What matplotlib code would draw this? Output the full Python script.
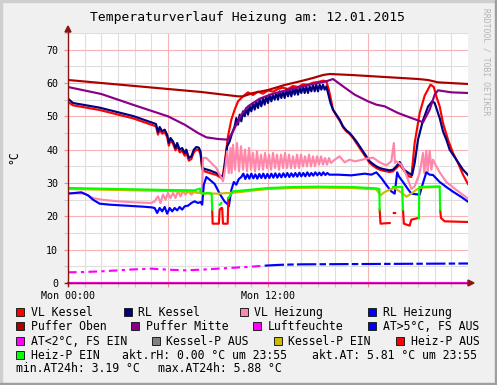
import numpy as np
import matplotlib
matplotlib.use("Agg")
import matplotlib.pyplot as plt
from matplotlib.patches import Rectangle, Polygon
from matplotlib.lines import Line2D

nan = np.nan
W, H = 497, 385

# ------------------------------------------------------------------ data
# time in hours since Mon 00:00, values in °C
title = "Temperaturverlauf Heizung am: 12.01.2015"
xtick_hours = [0, 6, 12, 18]
xtick_labels = ["Mon 00:00", "", "Mon 12:00", ""]
ytick_values = [0, 10, 20, 30, 40, 50, 60, 70]

puffer_oben_t = [0, 8.0, 10.2, 10.5, 11.1, 12.0, 13.0, 14.0, 14.7, 15.3, 15.7, 17.0, 19.0, 21.0, 21.6, 22.2, 24.0]
puffer_oben_v = [60.9, 57.3, 56.0, 56.0, 57.0, 57.9, 59.4, 60.6, 61.5, 62.4, 62.7, 62.4, 61.8, 61.2, 60.9, 60.2, 59.7]

puffer_mitte_t = [0, 2.0, 4.0, 6.0, 7.0, 7.8, 8.3, 9.0, 9.6, 9.9, 10.4, 10.8, 11.5, 12.3, 13.5, 14.5, 15.5, 15.9,
                  16.5, 17.2, 18.0, 18.5, 19.0, 19.8, 20.6, 21.0, 21.3, 21.7, 22.0, 22.2, 23.0, 24.0]
puffer_mitte_v = [58.8, 56.7, 53.3, 50.0, 47.5, 45.0, 43.7, 43.2, 43.0, 45.5, 50.5, 53.0, 55.3, 56.8, 58.3, 59.5, 60.5, 61.2,
                  59.0, 56.5, 54.5, 53.5, 53.0, 51.0, 49.5, 48.8, 48.2, 52.0, 56.5, 57.8, 57.2, 57.0]

vl_kessel_t = [0, 0.3, 1.9, 3.9, 5.28, 5.4, 5.5, 5.65, 5.8, 5.95, 6.05, 6.15, 6.3, 6.45, 6.55, 6.7, 6.85, 7.0, 7.1,
               7.25, 7.4, 7.55, 7.7, 7.85, 7.95, 8.05, 8.15, 8.5, 8.9, 9.2, 9.3, 9.4, 9.6, 9.8, 10.0, 10.2, 10.5, 10.8,
               11.1, 11.4, 11.7, 12.0, 12.3, 12.6, 12.9, 13.2, 13.5, 13.8, 14.1, 14.4, 14.7, 15.0, 15.3, 15.5, 15.65,
               15.8, 15.9, 16.1, 16.3, 16.5, 16.7, 16.9, 17.1, 17.3, 17.5, 17.7, 17.9, 18.1, 18.3, 18.5, 18.7, 18.9,
               19.1, 19.3, 19.5, 19.7, 19.9, 20.2, 20.45, 20.6, 20.8, 21.1, 21.4, 21.75, 21.95, 22.1, 22.3, 22.5,
               22.8, 23.1, 23.4, 23.7, 24.0]
vl_kessel_v = [54.3, 53.3, 51.9, 49.4, 47.0, 44.5, 46.0, 44.8, 45.2, 43.8, 41.2, 42.8, 41.8, 39.8, 41.2, 39.2, 39.7,
               38.2, 39.2, 36.7, 37.2, 39.2, 40.0, 39.8, 38.7, 34.2, 33.6, 33.0, 32.4, 31.5, 32.5, 36.0, 44.0, 49.0,
               52.0, 54.5, 56.0, 57.2, 56.4, 57.4, 56.8, 57.8, 57.4, 58.2, 58.6, 58.2, 59.1, 58.8, 59.6, 59.5, 60.1,
               60.3, 60.7, 60.5, 58.0, 54.5, 52.0, 50.2, 48.7, 46.7, 45.5, 44.7, 43.5, 42.0, 40.5, 39.0, 37.5, 36.0,
               35.2, 34.5, 34.0, 33.7, 33.5, 33.3, 33.5, 34.5, 35.5, 33.5, 32.0, 31.8, 42.0, 51.0, 56.2, 59.5, 58.8,
               56.0, 53.0, 48.0, 43.0, 39.0, 36.0, 32.5, 29.7]

rl_kessel_t = [0, 0.3, 1.9, 3.9, 5.28, 5.4, 5.5, 5.65, 5.8, 5.95, 6.05, 6.15, 6.3, 6.45, 6.55, 6.7, 6.85, 7.0, 7.1,
               7.25, 7.4, 7.55, 7.7, 7.85, 7.95, 8.05, 8.15, 8.5, 8.9, 9.2, 9.3, 9.4, 9.55, 9.7, 9.85,
               10.0, 10.1, 10.2, 10.3, 10.4, 10.5, 10.6, 10.7, 10.8, 10.9, 11.0, 11.1, 11.2, 11.3, 11.4, 11.5, 11.6,
               11.7, 11.8, 11.9, 12.0, 12.1, 12.2, 12.3, 12.4, 12.5, 12.6, 12.7, 12.8, 12.9, 13.0, 13.1, 13.2, 13.3,
               13.4, 13.5, 13.6, 13.7, 13.8, 13.9, 14.0, 14.1, 14.2, 14.3, 14.4, 14.5, 14.6, 14.7, 14.8, 14.9, 15.0,
               15.1, 15.2, 15.3, 15.4, 15.5,
               15.65, 15.75, 15.9, 16.1, 16.3, 16.5, 16.7, 16.9, 17.1, 17.3, 17.5, 17.7, 17.9, 18.1, 18.3, 18.5, 18.7,
               18.9, 19.1, 19.3, 19.5, 19.7, 19.9, 20.0, 20.15, 20.3, 20.5, 20.65, 20.8, 21.0, 21.3, 21.6, 21.85, 22.0,
               22.1, 22.3, 22.5, 22.7, 22.9, 23.1, 23.3, 23.5, 23.7, 23.85, 24.0]
rl_kessel_v = [55.3, 54.0, 52.6, 50.1, 47.7, 45.3, 46.8, 45.5, 46.0, 44.5, 42.0, 43.5, 42.5, 40.5, 42.0, 40.0, 40.5,
               39.0, 40.0, 37.5, 38.0, 40.0, 40.8, 40.6, 39.5, 35.0, 34.3, 33.8, 33.0, 32.0, 31.8, 35.0, 41.0, 42.5,
               45.0,
               47.0, 49.5, 47.5, 50.5, 48.5, 51.5, 50.0, 52.5, 50.5, 53.0, 51.5, 54.0, 52.0, 54.5, 52.5, 55.0, 53.0,
               55.5, 53.5, 56.0, 54.0, 56.5, 54.5, 56.5, 55.0, 57.0, 55.0, 57.5, 55.5, 57.5, 55.5, 58.0, 56.0, 58.0,
               56.0, 58.5, 56.5, 58.5, 56.5, 58.5, 57.0, 59.0, 57.0, 59.0, 57.0, 59.0, 57.5, 59.5, 57.5, 59.5, 57.5,
               59.5, 58.0, 59.5, 58.0, 59.0,
               56.0, 54.0, 52.0, 50.5, 49.0, 47.0, 45.8, 45.0, 43.8, 42.5, 41.0, 39.5, 38.0, 36.5, 35.7, 35.0, 34.5,
               34.2, 34.0, 33.8, 34.0, 35.0, 36.3, 35.5, 34.0, 33.5, 32.8, 32.4, 36.0, 43.0, 48.8, 52.9, 54.5, 54.0,
               52.5, 49.5, 45.5, 43.0, 40.0, 38.5, 37.0, 35.5, 34.0, 33.2, 32.4]

vl_heizung_t = [0, 1.0, 1.5, 2.0, 3.0, 4.0, 5.0, 5.2, 5.4, 5.55, 5.7, 5.85, 6.0, 6.15, 6.3, 6.45, 6.6, 6.75, 6.9,
                7.05, 7.2, 7.4, 7.6, 7.8, 7.95, 8.05, 8.1, 8.3, 8.6, 8.9, 9.2, 9.3, 9.45, 9.55, 9.65, 9.75, 9.82,
                9.90, 10.02, 10.14, 10.26, 10.38, 10.50, 10.62, 10.74, 10.86, 10.98, 11.10, 11.22, 11.34, 11.46,
                11.58, 11.70, 11.82, 11.94, 12.06, 12.18, 12.30, 12.42, 12.54, 12.66, 12.78, 12.90, 13.02, 13.14,
                13.26, 13.38, 13.50, 13.62, 13.74, 13.86, 13.98, 14.10, 14.22, 14.34, 14.46, 14.58, 14.70, 14.82,
                14.94, 15.06, 15.18, 15.30, 15.42, 15.54, 15.66, 15.78,
                16.0, 16.3, 16.6, 16.9, 17.2, 17.5, 17.9, 18.3, 18.7, 19.1, 19.4, 19.55, 19.62, 19.7, 20.0, 20.3,
                20.6, 20.8, 21.1, 21.3, 21.38, 21.5, 21.58, 21.7, 21.8, 21.9, 22.1, 22.3, 22.7, 23.3, 24.0]
vl_heizung_v = [27.0, 26.8, 25.5, 25.0, 24.5, 24.2, 24.0, 24.5, 26.0, 24.0, 26.5, 25.0, 27.0, 25.5, 27.0, 25.5,
                27.5, 26.0, 27.5, 26.5, 27.5, 26.5, 27.5, 27.0, 27.5, 29.0, 37.5, 37.5, 36.0, 34.5, 31.5, 30.5,
                35.0, 39.5, 33.0, 40.5, 33.0,
                41.5, 34.0, 42.0, 33.5, 41.0, 34.0, 40.0, 33.5, 40.5, 34.0, 39.0, 33.5, 39.5, 34.0, 38.5, 34.0,
                39.0, 34.5, 38.5, 34.0, 39.0, 34.5, 38.5, 34.0, 38.5, 34.5, 39.0, 34.5, 38.5, 34.5, 38.0, 34.5,
                38.5, 34.5, 38.5, 35.0, 38.0, 35.0, 38.5, 35.0, 38.0, 35.0, 38.0, 35.5, 38.0, 35.5, 37.5, 35.5,
                37.5, 36.0,
                37.0, 38.0, 36.2, 37.0, 36.5, 36.8, 37.3, 37.6, 36.2, 35.3, 36.5, 42.0, 36.0, 36.5, 35.5, 32.4,
                28.2, 29.0, 33.0, 39.0, 33.0, 39.7, 33.5, 39.7, 34.0, 37.0, 35.0, 33.2, 30.3, 27.9, 25.3]

rl_heizung_t = [0, 0.8, 1.2, 1.5, 1.9, 2.5, 3.5, 4.5, 5.0, 5.2, 5.35, 5.5, 5.65, 5.8, 5.95, 6.1, 6.25, 6.4, 6.55,
                6.7, 6.85, 7.0, 7.2, 7.4, 7.6, 7.8, 7.95, 8.05, 8.15, 8.3, 8.5, 8.8, 9.1, 9.4, 9.55, 9.65, 9.8,
                9.95, 10.1, 10.25,
                10.40, 10.52, 10.64, 10.76, 10.88, 11.00, 11.12, 11.24, 11.36, 11.48, 11.60, 11.72, 11.84, 11.96,
                12.08, 12.20, 12.32, 12.44, 12.56, 12.68, 12.80, 12.92, 13.04, 13.16, 13.28, 13.40, 13.52, 13.64,
                13.76, 13.88, 14.00, 14.12, 14.24, 14.36, 14.48, 14.60, 14.72, 14.84, 14.96, 15.08, 15.20, 15.32,
                15.44, 15.56, 15.68,
                16.2, 17.0, 17.8, 18.2, 18.5, 18.8, 19.1, 19.4, 19.6, 19.75, 19.85, 20.1, 20.35, 20.6, 21.1, 21.3,
                21.5, 21.7, 21.9, 22.3, 22.7, 23.1, 23.6, 24.0]
rl_heizung_v = [26.8, 27.2, 26.3, 25.0, 23.8, 23.5, 23.2, 22.9, 22.7, 22.5, 21.0, 22.5, 21.5, 22.8, 20.8, 22.5,
                21.5, 22.5, 21.8, 22.8, 22.0, 23.0, 23.2, 24.0, 24.5, 24.0, 24.3, 23.5, 29.5, 31.8, 31.0, 29.7,
                26.8, 24.4, 23.8, 23.0, 27.9, 30.3, 29.5, 31.2,
                31.8, 32.8, 31.2, 32.6, 31.3, 32.8, 31.4, 32.6, 31.3, 32.7, 31.5, 32.8, 31.4, 32.7, 31.5, 32.8,
                31.6, 32.9, 31.6, 32.8, 31.7, 32.9, 31.8, 33.0, 31.8, 32.9, 31.9, 33.0, 31.9, 33.1, 32.0, 33.0,
                32.0, 33.2, 32.1, 33.0, 32.2, 33.2, 32.3, 33.1, 32.3, 33.2, 32.4, 33.0, 32.5,
                32.5, 32.3, 32.8, 32.5, 33.2, 31.5, 29.4, 27.5, 26.8, 33.2, 32.0, 30.3, 28.5, 26.8, 26.5, 30.0,
                33.2, 32.5, 32.4, 30.3, 28.8, 27.4, 25.8, 24.4]

luftfeuchte_t = [0, 24]
luftfeuchte_v = [0.0, 0.0]

at_cold_t = [0, 1, 2, 3, 4, 5, 6, 7, 8, 9, 10, 11, 11.8]
at_cold_v = [3.2, 3.3, 3.5, 3.8, 4.1, 4.3, 4.0, 3.8, 4.0, 4.3, 4.6, 4.9, 5.2]
at_warm_t = [11.8, 12.5, 13, 14, 16, 18, 20, 22, 24]
at_warm_v = [5.2, 5.4, 5.5, 5.6, 5.65, 5.7, 5.75, 5.8, 5.85]

kesselp_t = [0, 3, 6, 7.5, 8.0, 9.0, 9.6, 10.2, 11.0, 12.0, 13.5, 15.0, 17.0, 18.5, 18.75, 19.0, 19.3, 19.6,
             20.1, 20.3, 20.6, 20.9, 21.2, 22.3]
kesselp_v = [28.2, 27.9, 27.6, 27.3, 26.9, 26.8, 27.0, 27.2, 27.7, 28.2, 28.5, 28.6, 28.5, 28.1, 26.3, 27.3,
             28.0, 28.5, 26.8, 25.9, 26.8, 28.0, 28.6, 28.8]

heizp_t = [0.0, 2.0, 4.0, 6.0, 7.6, 7.9, 8.05, 8.4, 8.62, 8.65, 8.68, 9.05, 9.1, 9.2, 9.25, 9.3, 9.58, 9.62,
           9.9, 11.0, 12.0, 13.5, 15.0, 17.0, 18.5, 18.68, 18.7, 18.75, 19.3, 19.32, 19.5, 19.55, 19.62, 19.65,
           20.05, 20.1, 20.15, 20.5, 20.6, 20.85, 21.0, 21.05, 21.08, 22.3, 22.33, 22.38, 22.6, 24.0]
heizp_ein = [28.5, 28.3, 28.1, 27.9, 27.8, 28.3, 26.8, 27.0, 26.8, 22.0, nan, nan, 23.5, 24.0, nan, nan, nan,
             25.5, 27.5, 28.0, 28.5, 28.8, 28.9, 28.8, 28.4, 28.2, 22.0, nan, nan, nan, 28.8, 28.8, 28.8, 28.8,
             28.8, 22.0, nan, nan, nan, nan, nan, 19.5, 28.8, 29.0, 22.0, nan, nan, nan]
heizp_aus = [nan, nan, nan, nan, nan, nan, nan, nan, nan, 22.0, 17.8, 17.8, 22.0, 22.5, 22.5, 17.8, 17.8,
             25.5, nan, nan, nan, nan, nan, nan, nan, nan, 22.0, 17.8, 18.0, nan, nan, 21.0, 21.0, nan,
             nan, 22.0, 17.8, 17.2, 19.0, 19.3, 19.5, 19.5, nan, nan, 22.0, 19.5, 18.5, 18.3]

legend_labels = ["VL Kessel", "RL Kessel", "VL Heizung", "RL Heizung",
                 "Puffer Oben", "Puffer Mitte", "Luftfeuchte", "AT>5°C, FS AUS",
                 "AT<2°C, FS EIN", "Kessel-P AUS", "Kessel-P EIN", "Heiz-P AUS",
                 "Heiz-P EIN"]
akt_rh, akt_at, min_at, max_at = 0.00, 5.81, 3.19, 5.88
akt_time = "23:55"

# ------------------------------------------------------------------ style
C = {
    "VL Kessel": "#FF0000", "RL Kessel": "#000080", "VL Heizung": "#FF88AA",
    "RL Heizung": "#0000FF", "Puffer Oben": "#AA0000", "Puffer Mitte": "#880088",
    "Luftfeuchte": "#FF00FF", "AT>5°C, FS AUS": "#0000FF", "AT<2°C, FS EIN": "#FF00FF",
    "Kessel-P AUS": "#808080", "Kessel-P EIN": "#CCBB00", "Heiz-P AUS": "#FF0000",
    "Heiz-P EIN": "#00FF00",
}
plt.rcParams["font.family"] = ["DejaVu Sans Mono"]
AXIS_COL = "#8E1414"
MAJ_GRID = "#F5B5B5"
MIN_GRID = "#DEDEDE"
LW = 1.55

fig = plt.figure(figsize=(W / 100, H / 100), dpi=100)
fig.patch.set_facecolor("#F0F0F0")


def fx(x):
    return x / W


def fy(y):
    return 1 - y / H


ax = fig.add_axes([fx(68), fy(283), 400 / W, 250 / H])
ax.set_facecolor("white")
ax.set_xlim(0, 24)
ax.set_ylim(0, 73.5)
for s in ax.spines.values():
    s.set_visible(False)

ax.set_xticks(xtick_hours)
ax.set_xticklabels(xtick_labels)
ax.set_xticks([h for h in range(1, 24) if h % 6], minor=True)
ax.set_yticks(ytick_values)
ax.set_yticks([v + 5 for v in ytick_values], minor=True)
ax.grid(which="major", color=MAJ_GRID, lw=0.8)
ax.grid(which="minor", color=MIN_GRID, lw=0.8)
ax.set_axisbelow(True)
ax.tick_params(which="major", length=3, width=0.8, color="#E89090", labelsize=7.2, pad=3)
ax.tick_params(which="minor", length=3, width=0.8, color="#C8C8C8")
ax.tick_params(axis="y", pad=4)

# series (drawn in rrdtool order)
ax.plot(vl_kessel_t, vl_kessel_v, color=C["VL Kessel"], lw=LW)
ax.plot(rl_kessel_t, rl_kessel_v, color=C["RL Kessel"], lw=LW)
ax.plot(vl_heizung_t, vl_heizung_v, color=C["VL Heizung"], lw=LW)
ax.plot(rl_heizung_t, rl_heizung_v, color=C["RL Heizung"], lw=LW)
ax.plot(puffer_oben_t, puffer_oben_v, color=C["Puffer Oben"], lw=LW)
ax.plot(puffer_mitte_t, puffer_mitte_v, color=C["Puffer Mitte"], lw=LW)
ax.plot(at_warm_t, at_warm_v, color=C["AT>5°C, FS AUS"], lw=LW, dashes=(9, 1.5, 3, 1.5))
ax.plot(at_cold_t, at_cold_v, color=C["AT<2°C, FS EIN"], lw=LW, dashes=(4, 2, 1.5, 2))
ax.plot(kesselp_t, kesselp_v, color=C["Kessel-P EIN"], lw=LW)
ax.plot(heizp_t, heizp_aus, color=C["Heiz-P AUS"], lw=LW)
ax.plot(heizp_t, heizp_ein, color=C["Heiz-P EIN"], lw=LW)

# axes lines + arrows
fig.add_artist(Line2D([fx(68), fx(68)], [fy(286), fy(30)], color=AXIS_COL, lw=1.0))
fig.add_artist(Line2D([fx(65), fx(470)], [fy(283), fy(283)], color=AXIS_COL, lw=1.0))
fig.add_artist(Polygon([[fx(68), fy(26)], [fx(65), fy(32)], [fx(71), fy(32)]], closed=True,
                       color=AXIS_COL, transform=fig.transFigure))
fig.add_artist(Polygon([[fx(474), fy(283)], [fx(468), fy(280)], [fx(468), fy(286)]], closed=True,
                       color=AXIS_COL, transform=fig.transFigure))
ax.plot(luftfeuchte_t, luftfeuchte_v, color=C["Luftfeuchte"], lw=LW, clip_on=False, zorder=5)

# texts
fig.text(fx(248), fy(20.7), title, ha="center", va="baseline", fontsize=9.4)
fig.text(fx(14), fy(157), "°C", rotation=90, ha="center", va="center", fontsize=8.3)
fig.text(fx(486), fy(62), "RRDTOOL / TOBI OETIKER", rotation=270, ha="center", va="center",
         fontsize=5.8, color="#B4B4B4")

# legend
rows = [312, 326, 340.5, 354.5, 368]
text_x = [30.7, 138.3, 254, 382.7, 30.7, 145.7, 267.3, 382.7, 30.7, 166.3, 288.3, 410.7, 30.7]
text_row = [0, 0, 0, 0, 1, 1, 1, 1, 2, 2, 2, 2, 3]
for lab, tx, r in zip(legend_labels, text_x, text_row):
    yc = rows[r]
    fig.add_artist(Rectangle((fx(tx - 14.5), fy(yc + 4)), 8 / W, 8 / H, facecolor=C[lab],
                             edgecolor="#202020", lw=0.7, transform=fig.transFigure))
    fig.text(fx(tx), fy(yc + 4.2), lab, ha="left", va="baseline", fontsize=8.3)

extra = [
    (f"akt.rH: {akt_rh:.2f} °C um {akt_time}", 122.3, 3),
    (f"akt.AT: {akt_at:.2f} °C um {akt_time}", 312.3, 3),
    (f"min.AT24h: {min_at:.2f} °C", 16.3, 4),
    (f"max.AT24h: {max_at:.2f} °C", 158.3, 4),
]
for s, tx, r in extra:
    fig.text(fx(tx), fy(rows[r] + 4.2), s, ha="left", va="baseline", fontsize=8.3)

# frame shading
fig.add_artist(Rectangle((0, 0), 2 / W, 1, color="#CFCFCF", transform=fig.transFigure))
fig.add_artist(Rectangle((0, 1 - 2 / H), 1, 2 / H, color="#CFCFCF", transform=fig.transFigure))
fig.add_artist(Rectangle((1 - 2 / W, 0), 2 / W, 1, color="#9E9E9E", transform=fig.transFigure))
fig.add_artist(Rectangle((0, 0), 1, 2 / H, color="#9E9E9E", transform=fig.transFigure))

fig.savefig("out.png", dpi=100, facecolor=fig.get_facecolor())
